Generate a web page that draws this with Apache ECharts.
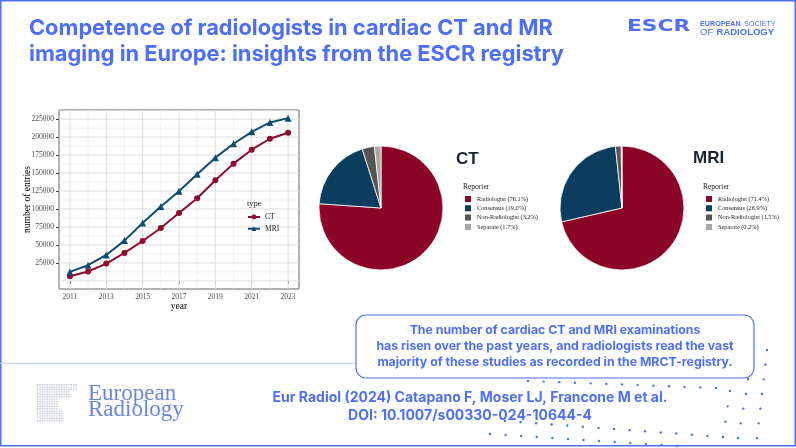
<!DOCTYPE html>
<html><head><meta charset="utf-8">
<script src="https://cdn.jsdelivr.net/npm/echarts@6/dist/echarts.min.js"></script>
<style>html,body{margin:0;padding:0;background:#fff}#c{width:796px;height:448px}</style>
</head><body><div id="c"></div>
<script>
// ---- data ----
const years = [2011,2012,2013,2014,2015,2016,2017,2018,2019,2020,2021,2022,2023];
const ctEntries  = [6500,13000,24000,38900,55500,73500,94300,115000,140000,163100,182500,197700,206000];
const mriEntries = [12500,21800,36100,56000,80400,103500,124800,148300,171400,190800,207400,220400,226400];
const yTickLabels = [25000,50000,75000,100000,125000,150000,175000,200000,225000];
const xTickLabels = [2011,2013,2015,2017,2019,2021,2023];
const yGridMajor = [0,25000,50000,75000,100000,125000,150000,175000,200000,225000];
const yGridMinor = [12500,37500,62500,87500,112500,137500,162500,187500,212500,237500];
const xGridMinor = [2012,2014,2016,2018,2020,2022];
const reporterCategories = ['Radiologist','Consensus','Non-Radiologist','Separate'];
const ctShares  = [76.1,19.0,3.2,1.7];
const mriShares = [71.4,26.9,1.5,0.2];

// ---- style ----
const BLUE = '#4F6EF6';
const reporterColors = ['#8B0626','#0B3D5E','#555555','#A8A8A8'];
const CT_COLOR = '#8E0B2E', MRI_COLOR = '#0F4C6E';
const SERIF = 'Liberation Serif';
const SANS = 'Inter';
const X_MIN = 2010.4, X_MAX = 2023.6, Y_MIN = -11320, Y_MAX = 237720;

const chart = echarts.init(document.getElementById('c'), null, {renderer:'canvas'});

function pieData(shares){
  return reporterCategories.map((c,i)=>({name: c+' ('+shares[i].toFixed(1)+'%)', value: shares[i], itemStyle:{color: reporterColors[i]}}));
}
const ctPie = pieData(ctShares), mriPie = pieData(mriShares);

// decorative dots
const dots = [];
function dotRow(x0,y0,x1,y1,n){ for(let i=0;i<n;i++){ const t=n>1?i/(n-1):0; dots.push({type:'circle',shape:{cx:x0+(x1-x0)*t,cy:y0+(y1-y0)*t,r:1.2},style:{fill:BLUE},silent:true}); } }
dotRow(528,381,716,388,13);
dotRow(505,421,723,437,15);
dotRow(490,434,677,446,13);
dotRow(767,350,757,438,7);
dotRow(746,394,738,438,4);
dotRow(730,391,723,437,4);
dotRow(748,379,748,379,1);

// European Radiology icon dots
const iconDots = [];
for(let y=384;y<=420;y+=2.4){ for(let x=37;x<=76;x+=2.4){
  const upper = y<=397 && !(x>70 && y>389);
  const lower = y>397 && x<=57;
  const lower2 = y>409 && x<=63;
  if(upper||lower||lower2) iconDots.push({type:'rect',shape:{x:x,y:y,width:1.4,height:1.4},style:{fill:'#c3c8d8'},silent:true});
}}

// gridlines drawn as plain two-point line series through the axes
function gridSeries(values, horizontal, color, width){
  return values.map(v=>({
    type:'line', silent:true, z:1, symbol:'none', animation:false, emphasis:{disabled:true}, tooltip:{show:false},
    lineStyle:{color:color, width:width},
    data: horizontal ? [[X_MIN, v],[X_MAX, v]] : [[v, Y_MIN],[v, Y_MAX]]
  }));
}
const gridLines = []
  .concat(gridSeries(yGridMinor, true, '#ececec', 0.7))
  .concat(gridSeries(xGridMinor, false, '#ececec', 0.7))
  .concat(gridSeries(yGridMajor, true, '#dedede', 1))
  .concat(gridSeries(xTickLabels, false, '#dedede', 1));

const plain = v => String(v);

const option = {
  animation:false,
  backgroundColor:'#fff',
  title:[
    {text:'CT', left:456, top:151, padding:0, textStyle:{fontFamily:'Liberation Sans',fontWeight:'bold',fontSize:17,color:'#1b2437'}},
    {text:'MRI', left:693, top:150, padding:0, textStyle:{fontFamily:'Liberation Sans',fontWeight:'bold',fontSize:17,color:'#1b2437'}},
    {text:'Reporter', left:463, top:183, padding:0, textStyle:{fontFamily:SERIF,fontWeight:'normal',fontSize:7.5,color:'#222'}},
    {text:'Reporter', left:703, top:183, padding:0, textStyle:{fontFamily:SERIF,fontWeight:'normal',fontSize:7.5,color:'#222'}},
    {text:'type', left:247, top:199, padding:0, textStyle:{fontFamily:SERIF,fontWeight:'normal',fontSize:8.5,color:'#222'}}
  ],
  legend:[
    {data:['CT','MRI'], left:247, top:213, orient:'vertical', itemGap:3.7, itemWidth:12, itemHeight:6, padding:0,
     textStyle:{fontFamily:SERIF,fontSize:7.5,color:'#222'}},
    {data:ctPie.map(d=>d.name), left:463, top:194, orient:'vertical', itemGap:-0.7, itemWidth:8, itemHeight:8, icon:'rect', padding:0,
     textStyle:{fontFamily:SERIF,fontSize:6.3,color:'#222'}},
    {data:mriPie.map(d=>d.name), left:704, top:194, orient:'vertical', itemGap:-0.7, itemWidth:8, itemHeight:8, icon:'rect', padding:0,
     textStyle:{fontFamily:SERIF,fontSize:6.3,color:'#222'}}
  ],
  grid:{left:59, top:110, width:240, height:179, show:true, z:0, borderColor:'#666', borderWidth:1, backgroundColor:'rgba(255,255,255,0)', containLabel:false},
  xAxis:{type:'value', min:X_MIN, max:X_MAX, name:'year', nameLocation:'middle', nameGap:12, nameMoveOverlap:false,
    nameTextStyle:{fontFamily:SERIF,fontSize:9.5,color:'#000'},
    axisLine:{show:false}, splitLine:{show:false}, splitArea:{show:false},
    axisTick:{show:true, customValues:xTickLabels, length:3, lineStyle:{color:'#444'}},
    axisLabel:{customValues:xTickLabels, formatter:plain, fontFamily:SERIF, fontSize:7.5, color:'#4d4d4d', margin:4}},
  yAxis:{type:'value', min:Y_MIN, max:Y_MAX, name:'number of entries', nameLocation:'middle', nameGap:27, nameRotate:90, nameMoveOverlap:false,
    nameTextStyle:{fontFamily:SERIF,fontSize:9.5,color:'#000'},
    axisLine:{show:false}, splitLine:{show:false}, splitArea:{show:false},
    axisTick:{show:true, customValues:yTickLabels, length:3, lineStyle:{color:'#444'}},
    axisLabel:{customValues:yTickLabels, formatter:plain, fontFamily:SERIF, fontSize:7.5, color:'#4d4d4d', margin:5}},
  series: gridLines.concat([
    {name:'CT', type:'line', data:years.map((y,i)=>[y,ctEntries[i]]), symbol:'circle', symbolSize:6,
     lineStyle:{width:2,color:CT_COLOR}, itemStyle:{color:CT_COLOR}, z:4},
    {name:'MRI', type:'line', data:years.map((y,i)=>[y,mriEntries[i]]), symbol:'triangle', symbolSize:7,
     lineStyle:{width:2,color:MRI_COLOR}, itemStyle:{color:MRI_COLOR}, z:4},
    {name:'CT reporter', type:'pie', center:[381,208], radius:62, startAngle:90, clockwise:true,
     label:{show:false}, labelLine:{show:false}, itemStyle:{borderColor:'#fff',borderWidth:0.8}, emphasis:{disabled:true}, data:ctPie},
    {name:'MRI reporter', type:'pie', center:[622,208], radius:62, startAngle:90, clockwise:true,
     label:{show:false}, labelLine:{show:false}, itemStyle:{borderColor:'#fff',borderWidth:0.8}, emphasis:{disabled:true}, data:mriPie}
  ]),
  graphic:[
    {type:'rect', shape:{x:0.75,y:0.75,width:794.5,height:445}, style:{fill:'none',stroke:BLUE,lineWidth:1.5}, silent:true},
    {type:'text', x:29, y:28, style:{text:'Competence of radiologists in cardiac CT and MR', fontFamily:SANS, fontWeight:'bold', fontSize:21.8, fill:BLUE, align:'left', verticalAlign:'middle'}, silent:true},
    {type:'text', x:29, y:54.5, style:{text:'imaging in Europe: insights from the ESCR registry', fontFamily:SANS, fontWeight:'bold', fontSize:21.8, fill:BLUE, align:'left', verticalAlign:'middle'}, silent:true},
    {type:'line', shape:{x1:0,y1:363.3,x2:356,y2:363.3}, style:{stroke:'#bccbf8',lineWidth:1}, silent:true},
    {type:'rect', shape:{x:356,y:315,width:398,height:63,r:10}, style:{fill:'none',stroke:BLUE,lineWidth:1.2}, silent:true},
    {type:'text', x:555, y:330, style:{text:'The number of cardiac CT and MRI examinations', fontFamily:SANS, fontWeight:'bold', fontSize:12.3, fill:BLUE, align:'center', verticalAlign:'middle'}, silent:true},
    {type:'text', x:555, y:346, style:{text:'has risen over the past years, and radiologists read the vast', fontFamily:SANS, fontWeight:'bold', fontSize:12.3, fill:BLUE, align:'center', verticalAlign:'middle'}, silent:true},
    {type:'text', x:555, y:362, style:{text:'majority of these studies as recorded in the MRCT-registry.', fontFamily:SANS, fontWeight:'bold', fontSize:12.3, fill:BLUE, align:'center', verticalAlign:'middle'}, silent:true},
    {type:'text', x:470, y:398, style:{text:'Eur Radiol (2024) Catapano F, Moser LJ, Francone M et al.', fontFamily:SANS, fontWeight:'bold', fontSize:14, fill:BLUE, align:'center', verticalAlign:'middle'}, silent:true},
    {type:'text', x:470, y:415.5, style:{text:'DOI: 10.1007/s00330-024-10644-4', fontFamily:SANS, fontWeight:'bold', fontSize:14, fill:BLUE, align:'center', verticalAlign:'middle'}, silent:true},
    {type:'text', x:88, y:394, style:{text:'European', fontFamily:SERIF, fontSize:23, fill:'#6a86e0', align:'left', verticalAlign:'middle'}, silent:true},
    {type:'text', x:88, y:410, style:{text:'Radiology', fontFamily:SERIF, fontSize:23, fill:'#6a86e0', align:'left', verticalAlign:'middle'}, silent:true},
    {type:'text', x:627, y:27.5, scaleX:1.45, originX:0, originY:0, style:{text:'ESCR', fontFamily:'DejaVu Sans', fontWeight:'bold', fontSize:15, fill:BLUE, align:'left', verticalAlign:'middle'}, silent:true},
    {type:'text', x:700, y:24.5, style:{text:'{b|EUROPEAN} {n|SOCIETY}', align:'left', verticalAlign:'middle',
      rich:{b:{fontFamily:'Liberation Sans',fontWeight:'bold',fontSize:7.2,fill:BLUE}, n:{fontFamily:'Liberation Sans',fontSize:7.2,fill:BLUE}}}, silent:true},
    {type:'text', x:700, y:32.5, style:{text:'{n|OF} {b|RADIOLOGY}', align:'left', verticalAlign:'middle',
      rich:{b:{fontFamily:'Liberation Sans',fontWeight:'bold',fontSize:9.5,fill:BLUE}, n:{fontFamily:'Liberation Sans',fontSize:9.5,fill:BLUE}}}, silent:true}
  ].concat(dots).concat(iconDots)
};
chart.setOption(option);
</script>
</body></html>
